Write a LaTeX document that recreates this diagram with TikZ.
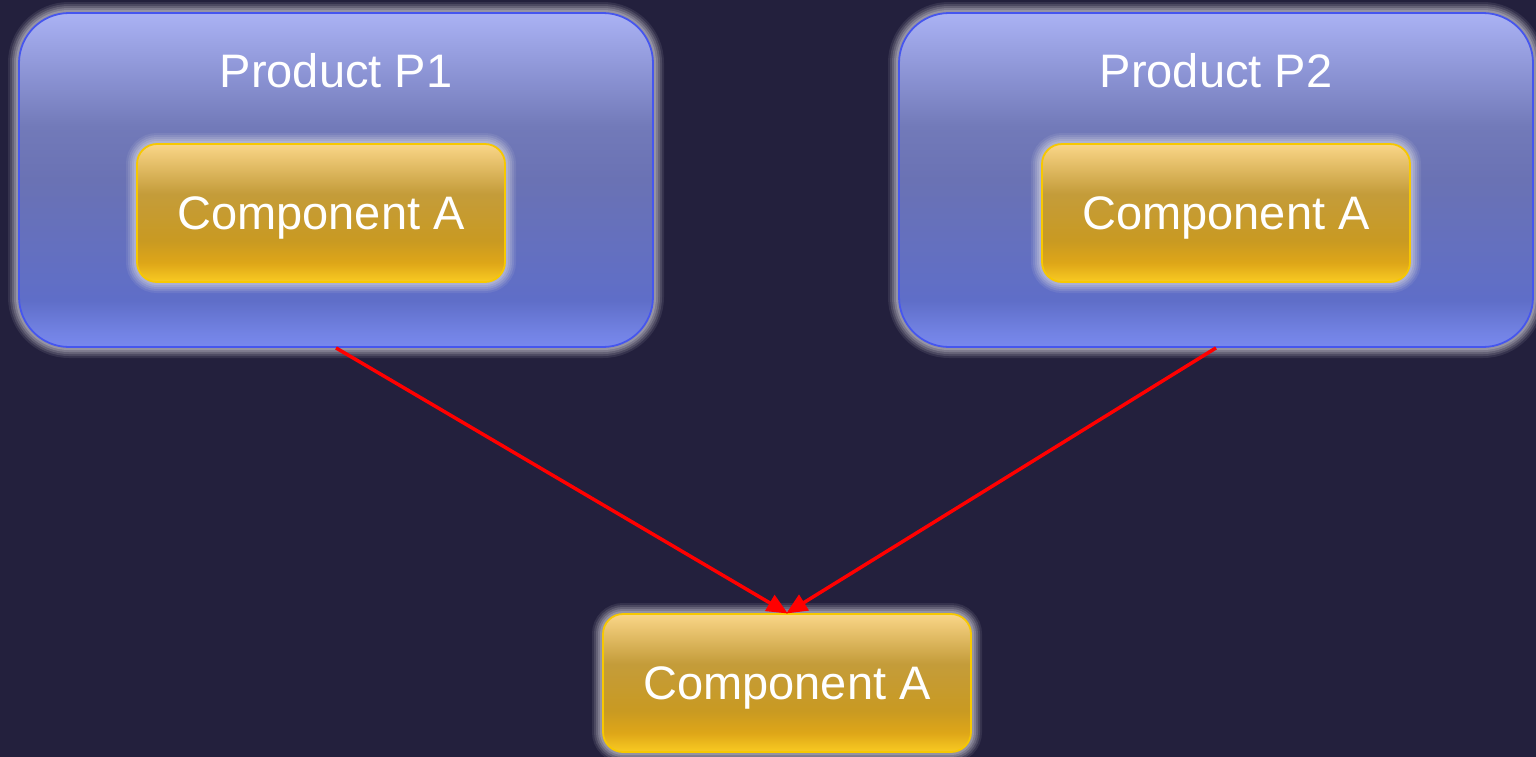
\documentclass[tikz,border=0pt]{standalone}
\usepackage{fontspec}
\setmainfont{Liberation Sans}
\usetikzlibrary{arrows.meta}

\definecolor{bgcol}{HTML}{23203D}
\definecolor{glowcol}{HTML}{D8D8E0}
\definecolor{blueedge}{HTML}{4656EE}
\definecolor{goldedge}{HTML}{F7C800}
\definecolor{arrowred}{HTML}{FF0000}

% stops of the product gradient, bottom to top
\definecolor{pgA}{HTML}{7888EE}
\definecolor{pgB}{HTML}{7383E4}
\definecolor{pgC}{HTML}{5F6EC8}
\definecolor{pgD}{HTML}{6A72B4}
\definecolor{pgE}{HTML}{727AB9}
\definecolor{pgF}{HTML}{AAB2F4}
% stops of the component gradient, bottom to top
\definecolor{cgA}{HTML}{F9CB22}
\definecolor{cgB}{HTML}{DEA618}
\definecolor{cgC}{HTML}{C99A22}
\definecolor{cgD}{HTML}{C49C3A}
\definecolor{cgE}{HTML}{FAD688}

% vertical gradients: the path spans 25bp (bottom) to 75bp (top)
\pgfdeclareverticalshading{productgrad}{100bp}{
  color(0bp)=(pgA);
  color(25bp)=(pgA);
  color(27bp)=(pgB);
  color(32bp)=(pgC);
  color(50bp)=(pgD);
  color(58bp)=(pgE);
  color(75bp)=(pgF);
  color(100bp)=(pgF)}
\pgfdeclareverticalshading{componentgrad}{100bp}{
  color(0bp)=(cgA);
  color(25bp)=(cgA);
  color(32bp)=(cgB);
  color(40bp)=(cgC);
  color(57bp)=(cgD);
  color(75bp)=(cgE);
  color(100bp)=(cgE)}

\tikzset{
  % soft halo: stacked translucent strokes, widest first
  glow/.style={
    preaction={draw=glowcol, line width=22pt, draw opacity=0.10},
    preaction={draw=glowcol, line width=18pt, draw opacity=0.14},
    preaction={draw=glowcol, line width=14pt, draw opacity=0.18},
    preaction={draw=glowcol, line width=10pt, draw opacity=0.22},
    preaction={draw=glowcol, line width=6pt, draw opacity=0.26}},
  productbox/.style={glow, rectangle, rounded corners=50pt, shading=productgrad,
    draw=blueedge, line width=1.8pt, minimum width=634pt, minimum height=334pt,
    inner sep=0pt},
  compbox/.style={glow, rectangle, rounded corners=20pt, shading=componentgrad,
    draw=goldedge, line width=1.8pt, minimum width=368pt, minimum height=138pt,
    inner sep=0pt, text depth=0pt, text=white, font=\fontsize{47pt}{56pt}\selectfont},
  titletext/.style={text=white, inner sep=0pt, font=\fontsize{47pt}{56pt}\selectfont},
  link/.style={draw=arrowred, line width=3.5pt,
    -{Triangle[length=21pt,width=18pt]}, shorten >=-1pt}
}

\begin{document}
\begin{tikzpicture}[x=1pt,y=-1pt]
  \useasboundingbox (0,0) rectangle (1536,756);
  \fill[bgcol] (-4,-4) rectangle (1540,760);

  % products
  \node[productbox] (p1) at (336,180) {};
  \node[productbox] (p2) at (1216,180) {};
  \node[titletext] (t1) at (336,71) {Product P1};
  \node[titletext] (t2) at (1216,71) {Product P2};

  % components
  \node[compbox] (c1) at (321,213) {Component A};
  \node[compbox] (c2) at (1226,213) {Component A};
  \node[compbox] (c3) at (787,683) {Component A};

  % usage links
  \coordinate (m) at (787,613);
  \draw[link] (p1.south) -- (m);
  \draw[link] (p2.south) -- (m);
\end{tikzpicture}
\end{document}
